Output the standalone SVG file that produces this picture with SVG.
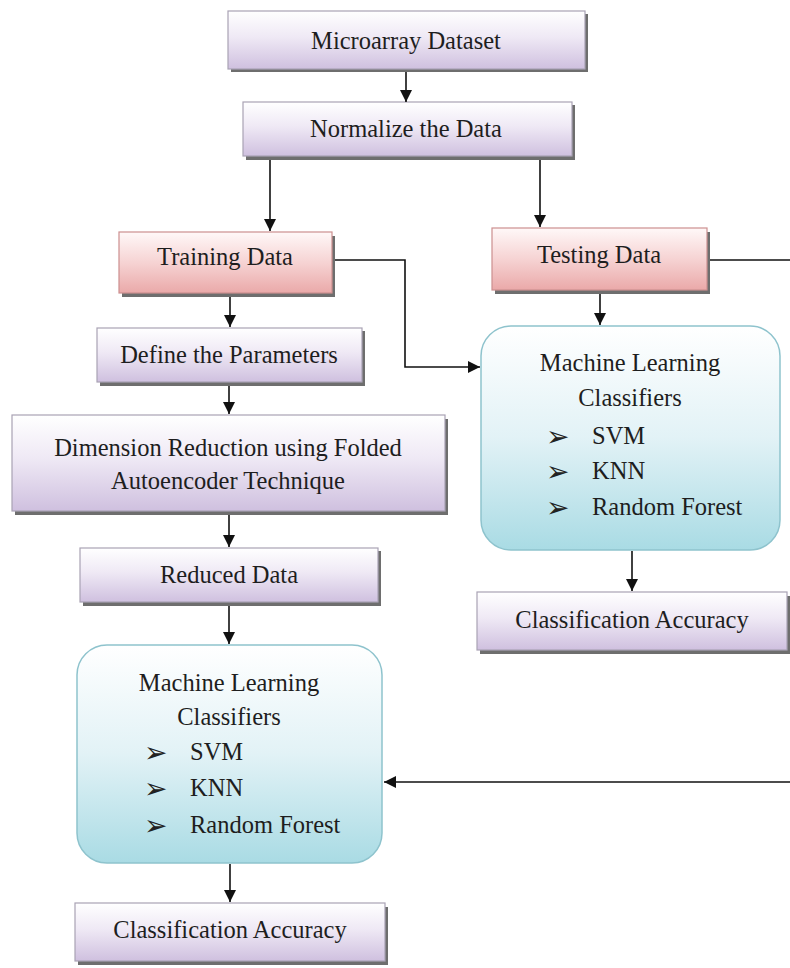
<svg xmlns="http://www.w3.org/2000/svg" width="790" height="968" viewBox="0 0 790 968">
<defs>
<linearGradient id="gp" x1="0" y1="0" x2="0" y2="1"><stop offset="0" stop-color="#ffffff"/><stop offset="0.45" stop-color="#efe9f5"/><stop offset="1" stop-color="#cfc0df"/></linearGradient>
<linearGradient id="gr" x1="0" y1="0" x2="0" y2="1"><stop offset="0" stop-color="#fff8f8"/><stop offset="0.5" stop-color="#f6d3d3"/><stop offset="1" stop-color="#eaa9a9"/></linearGradient>
<linearGradient id="gc" x1="0" y1="0" x2="0" y2="1"><stop offset="0" stop-color="#ffffff"/><stop offset="0.5" stop-color="#e2f2f6"/><stop offset="1" stop-color="#a9dbe4"/></linearGradient>
<marker id="ah" viewBox="0 0 10 10" refX="10" refY="5" markerWidth="12" markerHeight="12" markerUnits="userSpaceOnUse" orient="auto"><path d="M0,0 L10,5 L0,10 z" fill="#111"/></marker>
</defs>
<style>
.p{fill:url(#gp);stroke:#a9a2b4;stroke-width:1.2}
.r{fill:url(#gr);stroke:#cc8f8f;stroke-width:1.2}
.c{fill:url(#gc);stroke:#8ec3cd;stroke-width:1.5}
.sh{fill:#6e6e6e}
.t{font-family:"Liberation Serif","Times New Roman",serif;font-size:24.5px;fill:#1e1e1e;text-anchor:middle}
.tl{font-family:"Liberation Serif","Times New Roman",serif;font-size:24.5px;fill:#1e1e1e}
.b{font-family:"DejaVu Sans",sans-serif;font-size:28px;fill:#222}
.ln{fill:none;stroke:#111;stroke-width:1.6}
</style>
<rect width="790" height="968" fill="#ffffff"/>

<g id="n-microarray">
<rect class="sh" x="231" y="14" width="357" height="58"/>
<rect class="p" x="228" y="11" width="357" height="58"/>
<text class="t" x="406" y="49">Microarray Dataset</text>
</g>
<g id="n-normalize">
<rect class="sh" x="246" y="105" width="329" height="55"/>
<rect class="p" x="243" y="102" width="329" height="54"/>
<text class="t" x="406" y="137">Normalize the Data</text>
</g>
<g id="n-training">
<rect class="sh" x="122" y="236" width="213" height="61"/>
<rect class="r" x="119" y="232" width="213" height="61"/>
<text class="t" x="225" y="265">Training Data</text>
</g>
<g id="n-testing">
<rect class="sh" x="495" y="232" width="215" height="62"/>
<rect class="r" x="492" y="228" width="215" height="62"/>
<text class="t" x="599" y="263">Testing Data</text>
</g>
<g id="n-define">
<rect class="sh" x="100" y="331" width="265" height="55"/>
<rect class="p" x="97" y="328" width="265" height="54"/>
<text class="t" x="229" y="363">Define the Parameters</text>
</g>
<g id="n-dimred">
<rect class="sh" x="15" y="419" width="433" height="96"/>
<rect class="p" x="12" y="415" width="433" height="96"/>
<text class="t" x="228" y="456">Dimension Reduction using Folded</text>
<text class="t" x="228" y="489">Autoencoder Technique</text>
</g>
<g id="n-reduced">
<rect class="sh" x="83" y="551" width="298" height="55"/>
<rect class="p" x="80" y="548" width="298" height="54"/>
<text class="t" x="229" y="583">Reduced Data</text>
</g>
<g id="n-ml-right">
<rect class="c" x="481" y="326" width="299" height="224" rx="30" ry="30"/>
<text class="t" x="630" y="371">Machine Learning</text>
<text class="t" x="630" y="406">Classifiers</text>
<text class="b" x="546" y="446">➢</text><text class="tl" x="592" y="444">SVM</text>
<text class="b" x="546" y="481">➢</text><text class="tl" x="592" y="479">KNN</text>
<text class="b" x="546" y="517">➢</text><text class="tl" x="592" y="515">Random Forest</text>
</g>
<g id="n-acc-right">
<rect class="sh" x="480" y="596" width="310" height="58"/>
<rect class="p" x="477" y="592" width="310" height="58"/>
<text class="t" x="632" y="628">Classification Accuracy</text>
</g>
<g id="n-ml-left">
<rect class="c" x="77" y="645" width="305" height="218" rx="30" ry="30"/>
<text class="t" x="229" y="691">Machine Learning</text>
<text class="t" x="229" y="725">Classifiers</text>
<text class="b" x="144" y="762">➢</text><text class="tl" x="190" y="760">SVM</text>
<text class="b" x="144" y="798">➢</text><text class="tl" x="190" y="796">KNN</text>
<text class="b" x="144" y="835">➢</text><text class="tl" x="190" y="833">Random Forest</text>
</g>
<g id="n-acc-left">
<rect class="sh" x="78" y="907" width="310" height="58"/>
<rect class="p" x="75" y="903" width="310" height="58"/>
<text class="t" x="230" y="938">Classification Accuracy</text>
</g>

<g id="connectors">
<line class="ln" x1="406" y1="72" x2="406" y2="102" marker-end="url(#ah)"/>
<line class="ln" x1="270" y1="160" x2="270" y2="231" marker-end="url(#ah)"/>
<line class="ln" x1="540" y1="160" x2="540" y2="227" marker-end="url(#ah)"/>
<line class="ln" x1="230" y1="297" x2="230" y2="327" marker-end="url(#ah)"/>
<polyline class="ln" points="335,260 405,260 405,367 480,367" marker-end="url(#ah)"/>
<line class="ln" x1="710" y1="260" x2="790" y2="260"/>
<line class="ln" x1="600" y1="294" x2="600" y2="325" marker-end="url(#ah)"/>
<line class="ln" x1="229" y1="386" x2="229" y2="414" marker-end="url(#ah)"/>
<line class="ln" x1="229" y1="515" x2="229" y2="547" marker-end="url(#ah)"/>
<line class="ln" x1="229" y1="606" x2="229" y2="644" marker-end="url(#ah)"/>
<line class="ln" x1="632" y1="551" x2="632" y2="591" marker-end="url(#ah)"/>
<line class="ln" x1="790" y1="782" x2="384" y2="782" marker-end="url(#ah)"/>
<line class="ln" x1="230" y1="864" x2="230" y2="902" marker-end="url(#ah)"/>
</g>
</svg>
